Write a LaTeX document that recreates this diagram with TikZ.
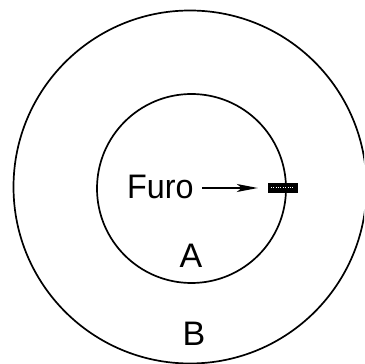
\documentclass[tikz,border=0pt]{standalone}
\usepackage{fontspec}
\setmainfont{Liberation Sans}
\usetikzlibrary{arrows.meta}
\begin{document}
\begin{tikzpicture}[x=1pt,y=1pt,
  ring/.style={draw=black,line width=1.7pt},
  lbl/.style={inner sep=0pt,font=\fontsize{34}{34}\selectfont},
  pointer/.style={line width=1.4pt,-{Stealth[length=21pt,width=8pt,inset=5pt]}}]
\useasboundingbox (0,0) rectangle (364,364);
\clip (0,0) rectangle (364,364);
\node[ring,circle,minimum size=353pt,inner sep=0pt] (outer) at (190,177) {};
\node[ring,circle,minimum size=189pt,inner sep=0pt] (inner) at (191.5,175.5) {};
\node[lbl,anchor=base west,xscale=0.95] (furo) at (127,165) {Furo};
\node[draw=black,fill=black,minimum width=29pt,minimum height=9pt,inner sep=0pt] (hole) at (282.5,176.5) {};
\draw[white,line width=0.4pt,dotted] ([xshift=3pt]hole.center-|hole.west) -- ([xshift=-3pt]hole.center-|hole.east);
\coordinate (tail) at (202,176);
\draw[pointer] (tail) -- ([xshift=-10pt]hole.west|-tail);
\node[lbl,anchor=base] (A) at (191,96) {A};
\node[lbl,anchor=base] (B) at (194,19) {B};
\end{tikzpicture}
\end{document}
